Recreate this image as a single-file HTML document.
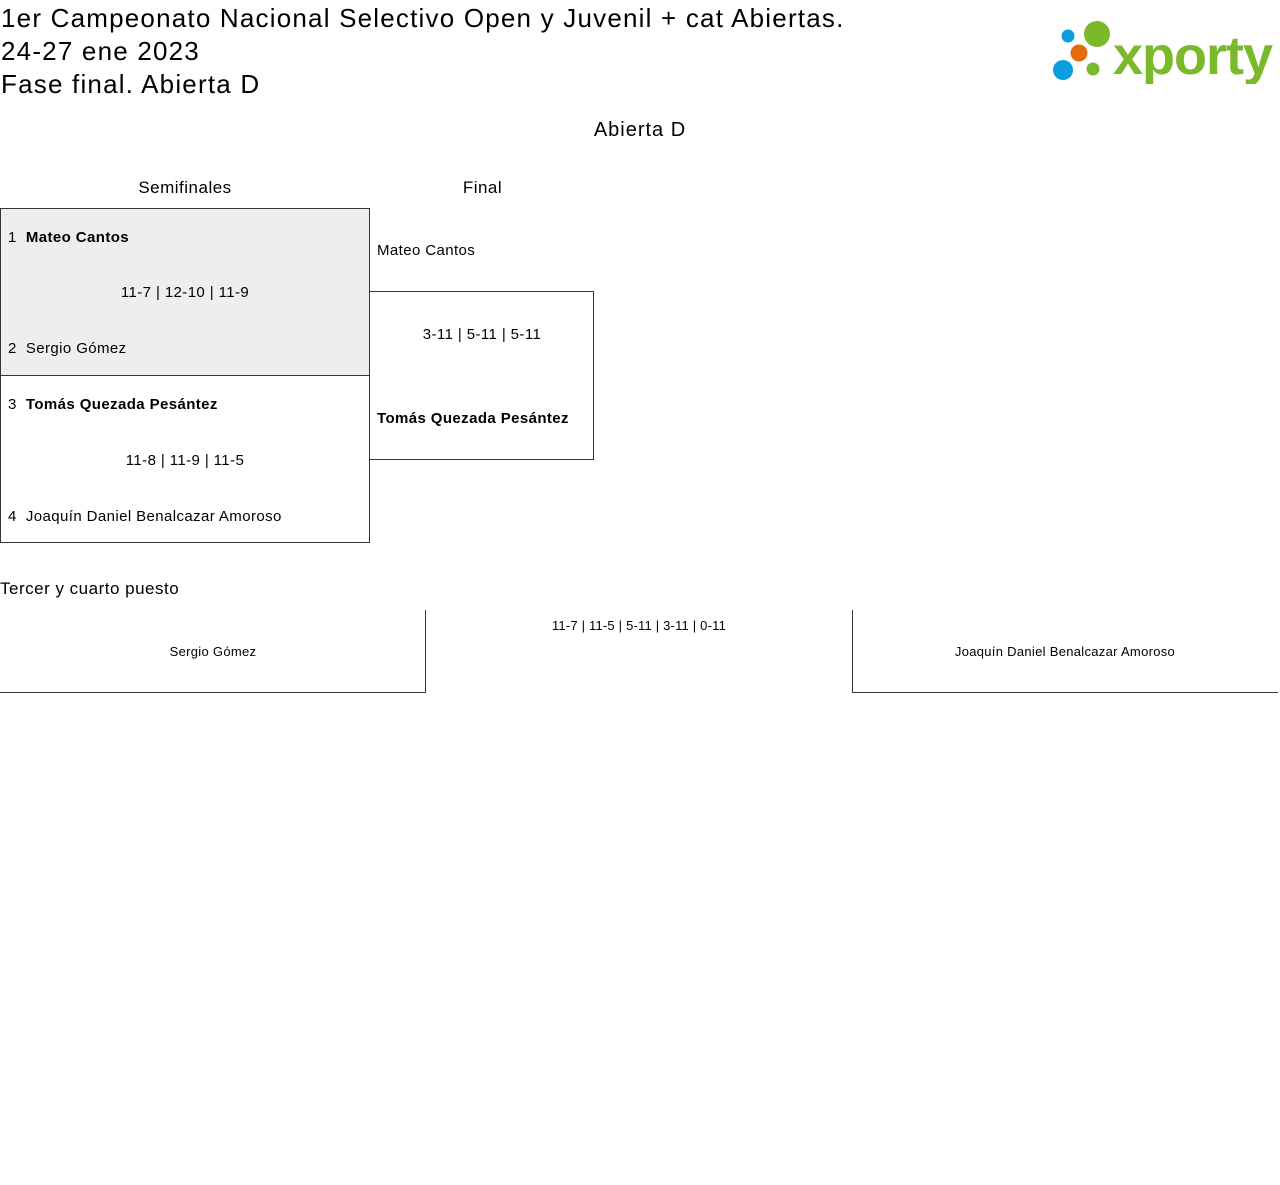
<!DOCTYPE html>
<html><head><meta charset="utf-8"><style>
body{margin:0;width:1280px;height:1185px;background:#fff;font-family:"Liberation Sans",sans-serif;color:#000;position:relative;overflow:hidden}
.a{position:absolute;white-space:nowrap}
.t{font-size:26px;left:1px;line-height:33px;letter-spacing:1.2px;top:2px}
.s{font-size:15px;letter-spacing:0.4px}
</style></head><body>
<div class="a t" style="top:2px">1er Campeonato Nacional Selectivo Open y Juvenil + cat Abiertas.</div>
<div class="a t" style="top:35px">24-27 ene 2023</div>
<div class="a t" style="top:68px">Fase final. Abierta D</div>
<svg class="a" style="left:1050px;top:18px" width="228" height="66">
<circle cx="18" cy="18" r="6.5" fill="#0a9ee0"/>
<circle cx="29" cy="35" r="8.5" fill="#e36c0a"/>
<circle cx="13" cy="52" r="10" fill="#0a9ee0"/>
<circle cx="47" cy="16" r="13" fill="#7ab929"/>
<circle cx="43" cy="51" r="6.5" fill="#7ab929"/>
<text x="63" y="56" font-family="Liberation Sans,sans-serif" font-weight="bold" font-size="54" fill="#7ab929" textLength="160">xporty</text>
</svg>
<div class="a" style="left:0;width:1280px;text-align:center;top:119px;font-size:20px;letter-spacing:1px">Abierta D</div>
<div class="a" style="left:0;width:370px;text-align:center;top:178px;font-size:17px;letter-spacing:0.5px">Semifinales</div>
<div class="a" style="left:370px;width:225px;text-align:center;top:178px;font-size:17px;letter-spacing:0.5px">Final</div>
<div class="a" style="left:0;top:208px;width:368px;height:166px;background:#eee;border:1px solid #333"></div>
<div class="a" style="left:0;top:375px;width:368px;height:167px;border:1px solid #333;border-top:none"></div>
<div class="a" style="left:369px;top:291px;width:224px;height:167px;border:1px solid #333;border-left:none"></div>
<div class="a s" style="left:8px;top:229px">1&nbsp;&nbsp;<b>Mateo Cantos</b></div>
<div class="a s" style="left:0;width:370px;text-align:center;top:284px">11-7 | 12-10 | 11-9</div>
<div class="a s" style="left:8px;top:340px">2&nbsp;&nbsp;Sergio Gómez</div>
<div class="a s" style="left:8px;top:396px">3&nbsp;&nbsp;<b>Tomás Quezada Pesántez</b></div>
<div class="a s" style="left:0;width:370px;text-align:center;top:452px">11-8 | 11-9 | 11-5</div>
<div class="a s" style="left:8px;top:508px">4&nbsp;&nbsp;Joaquín Daniel Benalcazar Amoroso</div>
<div class="a s" style="left:377px;top:242px">Mateo Cantos</div>
<div class="a s" style="left:370px;width:224px;text-align:center;top:326px">3-11 | 5-11 | 5-11</div>
<div class="a s" style="left:377px;top:410px"><b>Tomás Quezada Pesántez</b></div>
<div class="a" style="left:0;top:579px;font-size:17px;letter-spacing:0.5px">Tercer y cuarto puesto</div>
<div class="a" style="left:0;top:610px;width:425px;height:82px;border-right:1px solid #333;border-bottom:1px solid #333"></div>
<div class="a" style="left:852px;top:610px;width:425px;height:82px;border-left:1px solid #333;border-bottom:1px solid #333"></div>
<div class="a" style="left:0;width:426px;text-align:center;top:644px;font-size:13px;letter-spacing:0.3px">Sergio Gómez</div>
<div class="a" style="left:426px;width:426px;text-align:center;top:618px;font-size:13px;letter-spacing:0.2px">11-7 | 11-5 | 5-11 | 3-11 | 0-11</div>
<div class="a" style="left:852px;width:426px;text-align:center;top:644px;font-size:13px;letter-spacing:0.3px">Joaquín Daniel Benalcazar Amoroso</div>
</body></html>
